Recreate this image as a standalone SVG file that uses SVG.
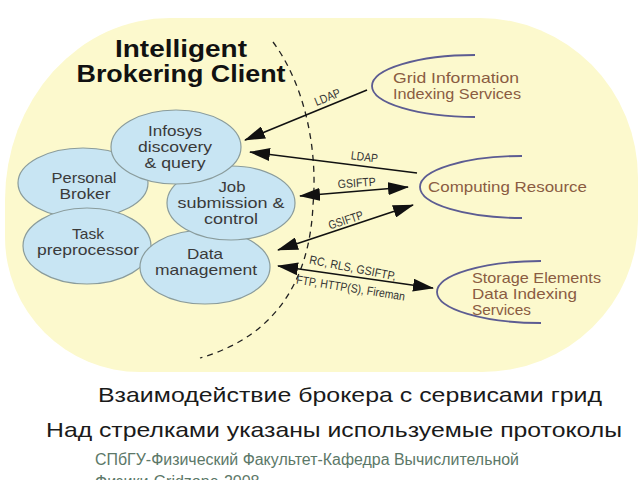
<svg xmlns="http://www.w3.org/2000/svg" width="640" height="480" viewBox="0 0 640 480">
  <defs>
    <marker id="ah" markerUnits="userSpaceOnUse" markerWidth="21" markerHeight="13" refX="20" refY="6.5" orient="auto-start-reverse" viewBox="0 0 21 13">
      <path d="M0,0 L21,6.5 L0,13 Z" fill="#111"/>
    </marker>
    <style>
      .bg { fill: #fcf9cd; }
      .node ellipse { fill: #c8e5f3; stroke: #8a9c9c; stroke-width: 1.2; }
      .nt { font-family: "Liberation Sans", Arial, sans-serif; font-size: 15px; fill: #3a3a3a; text-anchor: middle; }
      .svc path { fill: none; stroke: #5c5c92; stroke-width: 1.8; }
      .st { font-family: "Liberation Sans", Arial, sans-serif; font-size: 15px; fill: #8a5c42; }
      .title { font-family: "Liberation Sans", Arial, sans-serif; font-size: 24px; font-weight: bold; fill: #111; text-anchor: middle; }
      .conn line { stroke: #111; stroke-width: 1.6; }
      .lbl { font-family: "Liberation Sans", Arial, sans-serif; font-size: 12px; fill: #333; text-anchor: middle; }
      .cap { font-family: "Liberation Sans", Arial, sans-serif; font-size: 21px; fill: #1a1a1a; }
      .foot { font-family: "Liberation Sans", Arial, sans-serif; font-size: 16px; fill: #5c7868; }
    </style>
  </defs>

  <rect width="640" height="480" fill="#ffffff"/>
  <path class="bg" d="M170,18 H480 A158,160 0 0 1 638,178 V220 A156,152 0 0 1 482,372 H140 A135,135 0 0 1 5,237 V200 A165,182 0 0 1 170,18 Z"/>

  <path d="M273,42 C305,85 318,150 313,205 C310,275 280,335 200,358" fill="none" stroke="#222" stroke-width="1.3" stroke-dasharray="6,5"/>

  <g id="title">
    <text class="title" x="181" y="57" textLength="132" lengthAdjust="spacingAndGlyphs">Intelligent</text>
    <text class="title" x="181" y="82" textLength="209" lengthAdjust="spacingAndGlyphs">Brokering Client</text>
  </g>

  <g id="personal-broker" class="node">
    <ellipse cx="83" cy="183" rx="65" ry="35"/>
    <text class="nt" x="84" y="183" textLength="65" lengthAdjust="spacingAndGlyphs">Personal</text>
    <text class="nt" x="85" y="199" textLength="51" lengthAdjust="spacingAndGlyphs">Broker</text>
  </g>
  <g id="task-preprocessor" class="node">
    <ellipse cx="87" cy="246" rx="64" ry="38"/>
    <text class="nt" x="88" y="239" textLength="32" lengthAdjust="spacingAndGlyphs">Task</text>
    <text class="nt" x="88" y="255" textLength="102" lengthAdjust="spacingAndGlyphs">preprocessor</text>
  </g>
  <g id="data-management" class="node">
    <ellipse cx="205" cy="267" rx="65" ry="37"/>
    <text class="nt" x="205" y="259" textLength="36" lengthAdjust="spacingAndGlyphs">Data</text>
    <text class="nt" x="206" y="275" textLength="102" lengthAdjust="spacingAndGlyphs">management</text>
  </g>
  <g id="job-submission" class="node">
    <ellipse cx="231" cy="203" rx="64" ry="37"/>
    <text class="nt" x="232" y="192" textLength="27" lengthAdjust="spacingAndGlyphs">Job</text>
    <text class="nt" x="231" y="208" textLength="107" lengthAdjust="spacingAndGlyphs">submission &amp;</text>
    <text class="nt" x="231" y="224" textLength="54" lengthAdjust="spacingAndGlyphs">control</text>
  </g>
  <g id="infosys" class="node">
    <ellipse cx="176" cy="147" rx="65" ry="37"/>
    <text class="nt" x="175" y="136" textLength="54" lengthAdjust="spacingAndGlyphs">Infosys</text>
    <text class="nt" x="175" y="152" textLength="74" lengthAdjust="spacingAndGlyphs">discovery</text>
    <text class="nt" x="175" y="168" textLength="61" lengthAdjust="spacingAndGlyphs">&amp; query</text>
  </g>

  <g id="grid-information" class="svc">
    <path d="M475,55 A103,31 0 0 0 475,117"/>
    <text class="st" x="393" y="83" textLength="126" lengthAdjust="spacingAndGlyphs">Grid Information</text>
    <text class="st" x="393" y="99" textLength="128" lengthAdjust="spacingAndGlyphs">Indexing Services</text>
  </g>
  <g id="computing-resource" class="svc">
    <path d="M522,156 A102,31 0 0 0 522,218"/>
    <text class="st" x="428" y="192" font-size="17" textLength="159" lengthAdjust="spacingAndGlyphs">Computing Resource</text>
  </g>
  <g id="storage-elements" class="svc">
    <path d="M541,261 A104,31 0 0 0 541,323"/>
    <text class="st" x="472" y="283" textLength="129" lengthAdjust="spacingAndGlyphs">Storage Elements</text>
    <text class="st" x="472" y="299" textLength="105" lengthAdjust="spacingAndGlyphs">Data Indexing</text>
    <text class="st" x="472" y="315" textLength="59" lengthAdjust="spacingAndGlyphs">Services</text>
  </g>

  <g id="connectors" class="conn">
    <line x1="367" y1="90" x2="245" y2="140" marker-end="url(#ah)"/>
    <line x1="417" y1="173" x2="250" y2="152" marker-end="url(#ah)"/>
    <line x1="300" y1="196" x2="408" y2="187" marker-start="url(#ah)" marker-end="url(#ah)"/>
    <line x1="278" y1="250" x2="413" y2="205" marker-start="url(#ah)" marker-end="url(#ah)"/>
    <line x1="278" y1="266" x2="433" y2="288" marker-start="url(#ah)" marker-end="url(#ah)"/>
    <text class="lbl" transform="translate(329,101) rotate(-22)" textLength="27" lengthAdjust="spacingAndGlyphs">LDAP</text>
    <text class="lbl" transform="translate(364,161) rotate(7)" textLength="27" lengthAdjust="spacingAndGlyphs">LDAP</text>
    <text class="lbl" transform="translate(357,187) rotate(-4)" textLength="38" lengthAdjust="spacingAndGlyphs">GSIFTP</text>
    <text class="lbl" transform="translate(347,224) rotate(-18)" textLength="36" lengthAdjust="spacingAndGlyphs">GSIFTP</text>
    <text class="lbl" transform="translate(352,272) rotate(11)" textLength="88" lengthAdjust="spacingAndGlyphs">RC, RLS, GSIFTP,</text>
    <text class="lbl" transform="translate(350,292) rotate(9)" textLength="110" lengthAdjust="spacingAndGlyphs">FTP, HTTP(S), Fireman</text>
  </g>

  <text class="cap" x="98" y="402" textLength="504" lengthAdjust="spacingAndGlyphs">Взаимодействие брокера с сервисами грид</text>
  <text class="cap" x="46" y="437" textLength="576" lengthAdjust="spacingAndGlyphs">Над стрелками указаны используемые протоколы</text>
  <text class="foot" x="95" y="465" textLength="424" lengthAdjust="spacingAndGlyphs">СПбГУ-Физический Факультет-Кафедра Вычислительной</text>
  <text class="foot" x="95" y="487">Физики-Gridzone-2008</text>
</svg>
